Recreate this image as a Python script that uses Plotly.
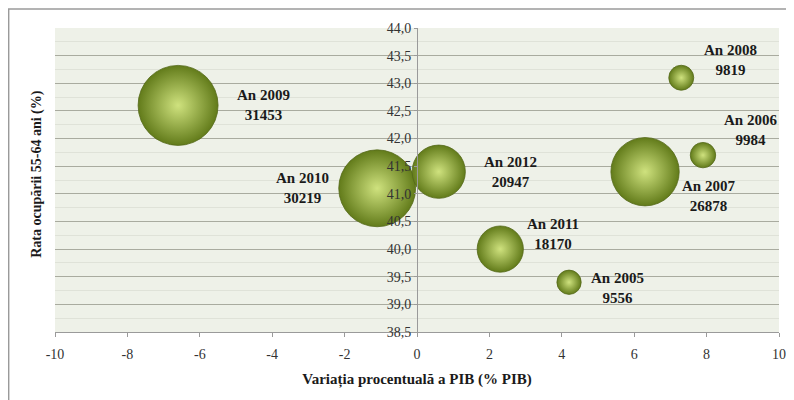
import plotly.graph_objects as go

# ---- data ----
years = ["2005", "2006", "2007", "2008", "2009", "2010", "2011", "2012"]
pib_change = [4.2, 7.9, 6.3, 7.3, -6.6, -1.1, 2.3, 0.6]
employment_rate = [39.4, 41.7, 41.4, 43.1, 42.6, 41.1, 40.0, 41.4]
bubble_values = [9556, 9984, 26878, 9819, 31453, 30219, 18170, 20947]

x_tick_vals = [-10, -8, -6, -4, -2, 0, 2, 4, 6, 8, 10]
x_tick_text = ["-10", "-8", "-6", "-4", "-2", "0", "2", "4", "6", "8", "10"]

# label offsets (pixels) for each bubble label
label_dx = [48, 48, 63, 49, 85, -75, 53, 72]
label_dy = [-6, 25, -24, 18, 0, 0, 15, 0]

serif = "Liberation Serif, Times New Roman, Times, serif"
max_diam_px = 80

fig = go.Figure()
fig.add_trace(go.Scatter(
    x=pib_change, y=employment_rate, mode="markers",
    marker=dict(
        size=bubble_values, sizemode="diameter",
        sizeref=max(bubble_values) / max_diam_px,
        color="#627b1a",
        gradient=dict(type="radial", color="#cfe27e"),
        line=dict(color="#55691a", width=0.8),
        opacity=1,
    ),
    hoverinfo="skip", showlegend=False,
))

for yr, xv, yv, val, dx, dy in zip(years, pib_change, employment_rate, bubble_values, label_dx, label_dy):
    fig.add_annotation(
        x=xv, y=yv, xref="x", yref="y",
        text=f"<b>An {yr}<br>{val}</b>", showarrow=False,
        xshift=dx, yshift=dy, xanchor="center", yanchor="middle",
        align="center",
        font=dict(family=serif, size=15, color="#1a1a1a"),
    )

# y-axis title
fig.add_annotation(
    x=-0.025, y=0.52, xref="paper", yref="paper",
    text="<b>Rata ocupării 55-64 ani (%)</b>", showarrow=False, textangle=-90,
    xanchor="center", yanchor="middle",
    font=dict(family=serif, size=14, color="#1a1a1a"),
)

# outer frame
fig.add_shape(type="rect", xref="paper", yref="paper",
              x0=-0.064, x1=1.0124, y0=-0.3, y1=1.0625,
              line=dict(color="#9a9a9a", width=1.5), fillcolor="rgba(0,0,0,0)",
              layer="below")

fig.update_layout(
    width=786, height=392,
    margin=dict(l=47, r=15, t=20, b=68),
    paper_bgcolor="white", plot_bgcolor="#eef1e8",
    separators=",.",
    xaxis=dict(
        range=[-10, 10], tickvals=x_tick_vals, ticktext=x_tick_text,
        automargin=False,
        showgrid=False, zeroline=False, showline=True, linecolor="#9a9a9a",
        ticks="outside", ticklen=4, tickcolor="#9a9a9a",
        ticklabelstandoff=5,
        tickfont=dict(family=serif, size=14, color="#333333"),
        title=dict(text="<b>Variația procentuală a PIB (% PIB)</b>",
                   font=dict(family=serif, size=15, color="#1a1a1a"),
                   standoff=12),
    ),
    yaxis=dict(
        range=[38.5, 44.0], dtick=0.5, tickformat=".1f",
        anchor="free", position=0.5, automargin=False,
        showgrid=True, gridcolor="#a9ab9f", gridwidth=1,
        minor=dict(dtick=0.25, showgrid=True, gridcolor="#dfe2d8", gridwidth=1),
        zeroline=False, showline=True, linecolor="#9a9a9a",
        ticks="outside", ticklen=3, tickcolor="#9a9a9a",
        tickfont=dict(family=serif, size=14, color="#333333"),
    ),
)

fig.write_html("out.html")
